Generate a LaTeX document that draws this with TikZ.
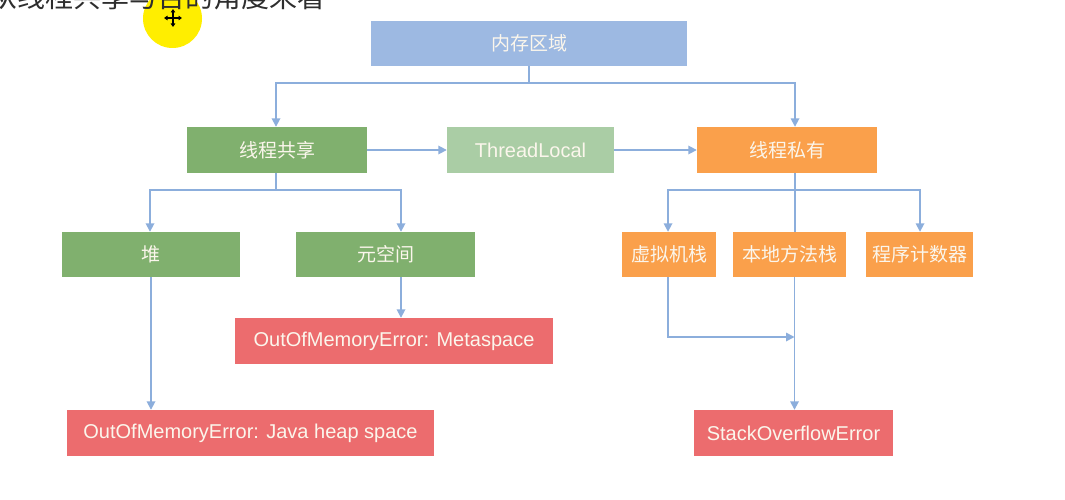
\documentclass[tikz,border=0pt]{standalone}
\usepackage{fontspec}
\setmainfont{Liberation Sans}
\newfontfamily\cjk{Noto Sans CJK SC}
\usetikzlibrary{arrows.meta}
\definecolor{cblue}{HTML}{9DB9E2}
\definecolor{cgreen}{HTML}{80B06E}
\definecolor{clgreen}{HTML}{AACDA5}
\definecolor{corange}{HTML}{FAA04B}
\definecolor{cred}{HTML}{EC6C6E}
\definecolor{cline}{HTML}{8CAEDC}
\definecolor{ctext}{HTML}{FBF6EC}
\definecolor{cyel}{HTML}{FFEE00}
\tikzset{
  box/.style={rectangle, inner sep=0pt, text=ctext, anchor=center},
  zh/.style={font=\cjk\fontsize{19}{22}\selectfont},
  en/.style={font=\fontsize{20}{24}\selectfont},
  link/.style={draw=cline, line width=1.7pt},
  arr/.style={link, -{Triangle[length=8.5pt,width=8.5pt]}},
  curarr/.style={line width=1.1pt, black, -{Triangle[length=3.5pt,width=4.5pt]}},
}
\begin{document}
\begin{tikzpicture}[x=1pt,y=-1pt]
\useasboundingbox (0,0) rectangle (1065,500);
\fill[white] (0,0) rectangle (1065,500);

% cursor highlight (below the heading text)
\fill[cyel] (172.5,18.5) circle (29.5);
\coordinate (cur) at (173,18);
\draw[curarr] (cur) -- ++(0,-9);
\draw[curarr] (cur) -- ++(0,9);
\draw[curarr] (cur) -- ++(-9,0);
\draw[curarr] (cur) -- ++(9,0);

% heading (cut off at top, as in the reference)
\node[anchor=west, inner sep=0pt, text=black!82, font=\cjk\fontsize{28}{30}\selectfont] (head) at (-11,-3) {从线程共享与否的角度来看};

% nodes
\node[box, zh, fill=cblue, minimum width=316, minimum height=45] (mem) at (529,43.5) {内存区域};
\node[box, zh, fill=cgreen, minimum width=180, minimum height=46] (shared) at (277,150) {线程共享};
\node[box, en, fill=clgreen, minimum width=167, minimum height=46] (tl) at (530.5,150) {ThreadLocal};
\node[box, zh, fill=corange, minimum width=180, minimum height=46] (priv) at (787,150) {线程私有};

\node[box, zh, fill=cgreen, minimum width=178, minimum height=45] (heap) at (151,254.5) {堆};
\node[box, zh, fill=cgreen, minimum width=179, minimum height=45] (meta) at (385.5,254.5) {元空间};
\node[box, zh, fill=corange, minimum width=94, minimum height=45] (vms) at (669,254.5) {虚拟机栈};
\node[box, zh, fill=corange, minimum width=113, minimum height=45] (nms) at (789.5,254.5) {本地方法栈};
\node[box, zh, fill=corange, minimum width=107, minimum height=45] (pc) at (919.5,254.5) {程序计数器};

\node[box, en, fill=cred, minimum width=318, minimum height=46] (oomm) at (394,341) {OutOfMemoryError: Metaspace};
\node[box, en, fill=cred, minimum width=367, minimum height=46] (oomh) at (250.5,433) {OutOfMemoryError: Java heap space};
\node[box, en, fill=cred, minimum width=199, minimum height=46] (soe) at (793.5,433) {StackOverflowError};

% connectors
\coordinate (j1) at (529,83);
\draw[link] (mem.south) -- (j1);
\draw[arr] (j1) -| ([xshift=-1]shared.north);
\draw[arr] (j1) -| ([xshift=8]priv.north);

\draw[arr] (shared.east) -- (tl.west);
\draw[arr] (tl.east) -- (priv.west);

\coordinate (j2) at (276,190);
\draw[link] ([xshift=-1]shared.south) -- (j2);
\draw[arr] (j2) -| ([xshift=-1]heap.north);
\draw[arr] (j2) -| ([xshift=15.5]meta.north);

\coordinate (j3) at (795,190);
\draw[link] ([xshift=8]priv.south) -- ([xshift=5.5]nms.north);
\draw[arr] (j3) -| ([xshift=-1]vms.north);
\draw[arr] (j3) -| ([xshift=0.5]pc.north);

\draw[arr] ([xshift=15.5]meta.south) -- ([xshift=7]oomm.north);
\draw[arr] (heap.south) -- ([xshift=-99.5]oomh.north);

\coordinate (j4) at (794.5,337);
\draw[link] ([xshift=5]nms.south) -- (j4);
\draw[arr] ([xshift=-1]vms.south) |- (j4);
\draw[arr] (j4) -- ([xshift=1]soe.north);
\end{tikzpicture}
\end{document}
